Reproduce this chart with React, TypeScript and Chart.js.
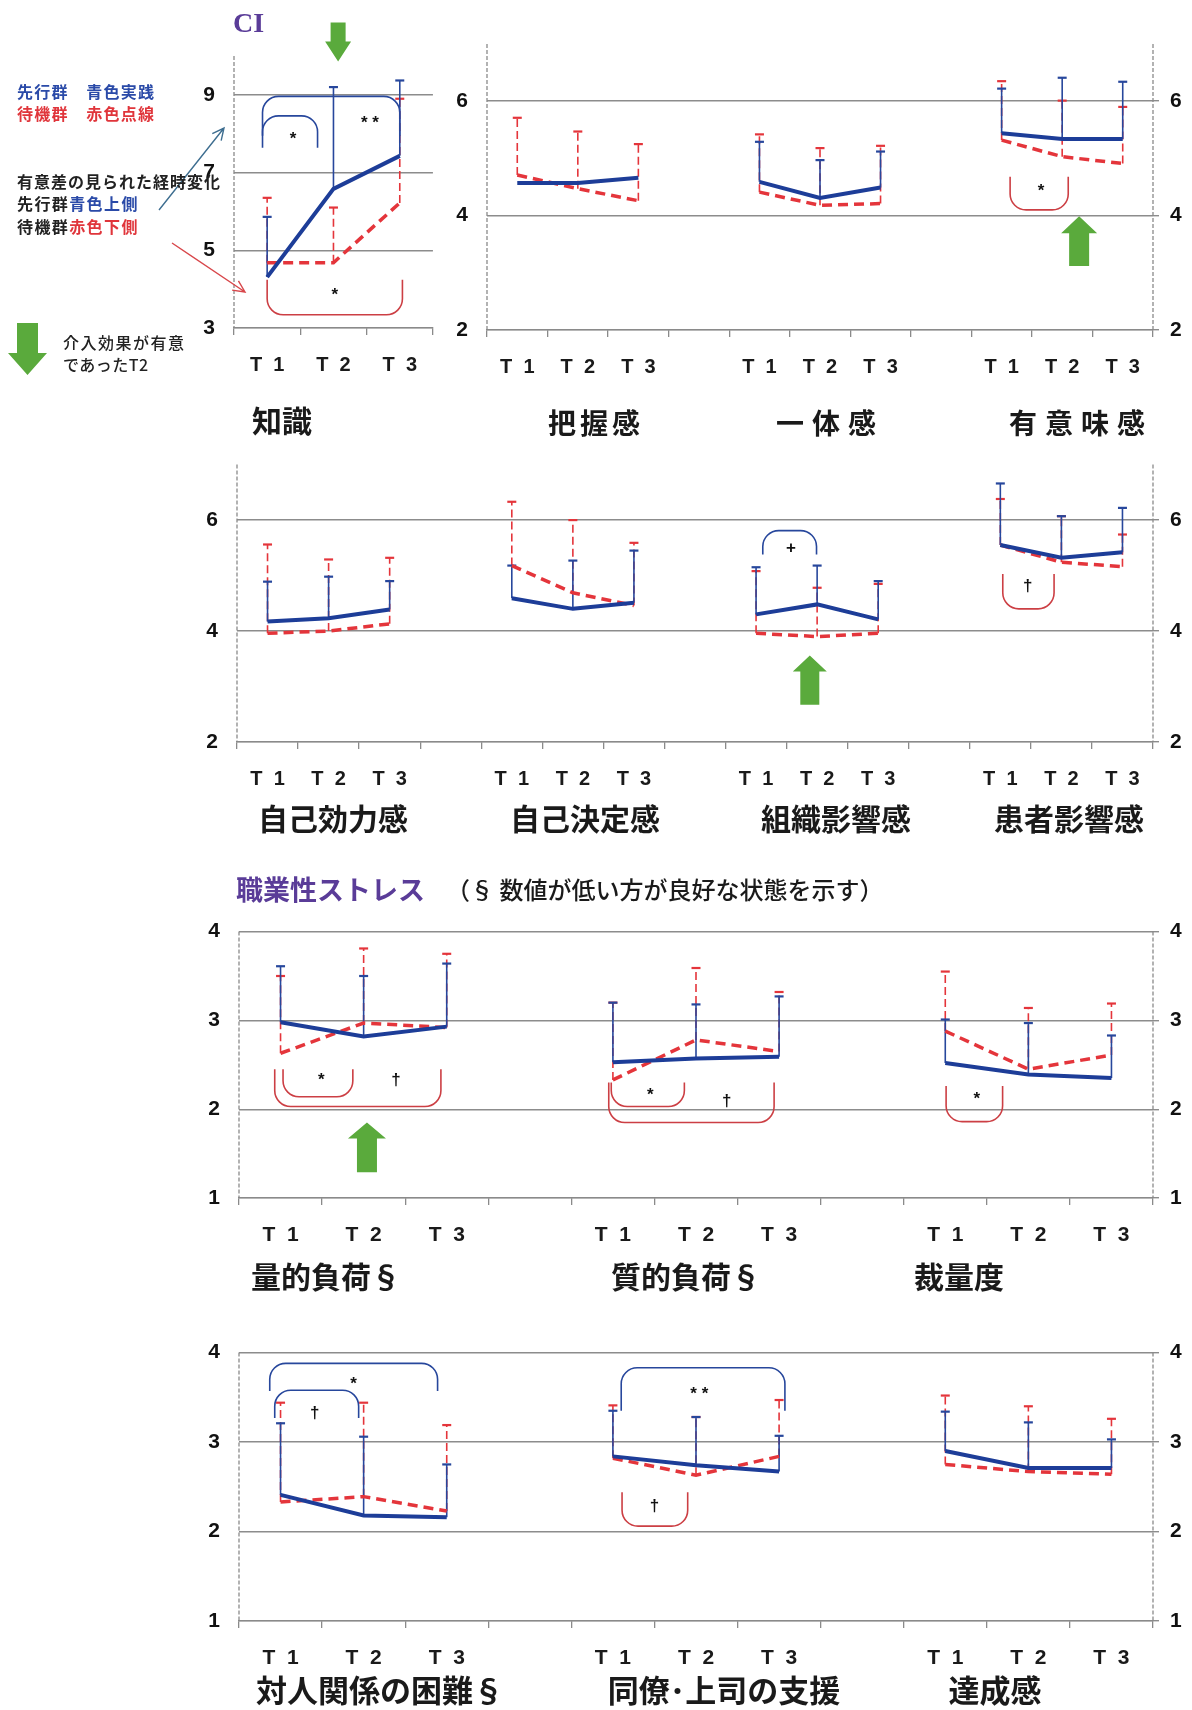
import React, { useEffect, useRef } from "react";
import { Chart, registerables } from "chart.js";

Chart.register(...registerables);

const BLUE = "#1d3d98";
const BLUE_BAR = "#27479c";
const RED = "#e4353b";
const RED_BRACKET = "#cc3f44";
const GREEN = "#5aaa3c";
const GRID = "#8c8c8c";
const TXT = "#1a1a1a";
const PURPLE = "#5a3c98";
const LATIN = "'Liberation Sans', Arial, sans-serif";
const CJK = "'Noto Sans CJK JP', 'Noto Sans', sans-serif";

// ---------------- categories ----------------
const catsKnowledge = ["T  1", "T  2", "T  3"];
const cats3Groups = ["T  1", "T  2", "T  3", "", "T  1", "T  2", "T  3", "", "T  1", "T  2", "T  3"];
const cats4Groups = ["T  1", "T  2", "T  3", "", "T  1", "T  2", "T  3", "", "T  1", "T  2", "T  3", "", "T  1", "T  2", "T  3"];

// ---------------- 知識 ----------------
const knowBlueMean = [4.31, 6.58, 7.43];
const knowBlueTop = [5.86, 9.2, 9.37];
const knowRedMean = [4.68, 4.68, 6.22];
const knowRedTop = [6.35, 6.1, 8.9];

// ---------------- 把握感 / 一体感 / 有意味感 ----------------
const ciBlueMean = [4.57, 4.57, 4.66, null, 4.59, 4.31, 4.49, null, 5.44, 5.34, 5.34];
const ciBlueTop = [null, null, null, null, 5.29, 4.97, 5.12, null, 6.22, 6.41, 6.34];
const ciRedMean = [4.71, 4.47, 4.26, null, 4.41, 4.18, 4.21, null, 5.32, 5.03, 4.91];
const ciRedTop = [5.71, 5.47, 5.25, null, 5.42, 5.18, 5.22, null, 6.35, 6.01, 5.9];

// ---------------- 自己効力感 / 自己決定感 / 組織影響感 / 患者影響感 ----------------
const empBlueMean = [4.17, 4.23, 4.39, null, 4.59, 4.4, 4.51, null, 4.3, 4.48, 4.21, null, 5.55, 5.32, 5.42];
const empBlueTop = [4.89, 4.98, 4.9, null, 5.18, 5.27, 5.45, null, 5.15, 5.18, 4.9, null, 6.66, 6.07, 6.22];
const empRedMean = [3.96, 4.0, 4.13, null, 5.18, 4.69, 4.46, null, 3.96, 3.9, 3.96, null, 5.55, 5.24, 5.16];
const empRedTop = [5.56, 5.29, 5.32, null, 6.33, 6.0, 5.59, null, 5.08, 4.78, 4.85, null, 6.38, 6.07, 5.74];

// ---------------- 量的負荷 / 質的負荷 / 裁量度 ----------------
const strBlueMean = [2.98, 2.82, 2.93, null, 2.53, 2.57, 2.59, null, 2.52, 2.39, 2.35];
const strBlueTop = [3.61, 3.5, 3.64, null, 3.2, 3.18, 3.27, null, 3.01, 2.97, 2.83];
const strRedMean = [2.63, 2.97, 2.92, null, 2.33, 2.78, 2.65, null, 2.88, 2.45, 2.61];
const strRedTop = [3.5, 3.81, 3.75, null, 3.2, 3.59, 3.32, null, 3.55, 3.14, 3.19];

// ---------------- 対人関係の困難 / 同僚・上司の支援 / 達成感 ----------------
const relBlueMean = [2.41, 2.18, 2.16, null, 2.84, 2.74, 2.67, null, 2.9, 2.71, 2.71];
const relBlueTop = [3.21, 3.06, 2.75, null, 3.35, 3.28, 3.07, null, 3.34, 3.22, 3.03];
const relRedMean = [2.33, 2.39, 2.23, null, 2.82, 2.63, 2.84, null, 2.75, 2.67, 2.64];
const relRedTop = [3.44, 3.44, 3.19, null, 3.41, 3.28, 3.47, null, 3.52, 3.4, 3.26];

// ---------------- y ticks ----------------
const ticksKnowledge = [3, 5, 7, 9];
const ticksCI = [2, 4, 6];
const ticksStress = [1, 2, 3, 4];

type Bracket = { x1: number; x2: number; yBase: number; yEnd: number; color: string; label: string; lx: number; ly: number };
type Arrow = { x: number; tip: number; tail: number; shaft: number; head: number; headLen: number };

type Panel = {
  id: string;
  l: number; t: number; r: number; b: number;
  pt: number; yw: number; yw2: number; xh: number;
  min: number; max: number; ticks: number[];
  right: boolean;
  labels: string[];
  tickSize: number;
  blueMean: (number | null)[]; blueTop: (number | null)[];
  redMean: (number | null)[]; redTop: (number | null)[];
  brackets: Bracket[];
  arrows: Arrow[];
};

const panels: Panel[] = [
  {
    id: "know", l: 234, t: 56, r: 429, b: 328, pt: 56, yw: 60, yw2: 6, xh: 52,
    min: 3, max: 10, ticks: ticksKnowledge, right: false, labels: catsKnowledge, tickSize: 20,
    blueMean: knowBlueMean, blueTop: knowBlueTop, redMean: knowRedMean, redTop: knowRedTop,
    brackets: [
      { x1: -0.07, x2: 2.0, yBase: 8.96, yEnd: 7.95, color: BLUE_BAR, label: "* *", lx: 1.55, ly: 8.28 },
      { x1: -0.07, x2: 0.76, yBase: 8.46, yEnd: 7.64, color: BLUE_BAR, label: "*", lx: 0.39, ly: 7.85 },
      { x1: 0.0, x2: 2.04, yBase: 3.34, yEnd: 4.24, color: RED_BRACKET, label: "*", lx: 1.02, ly: 3.85 },
    ],
    arrows: [{ x: 1.07, tip: 9.86, tail: 10.86, shaft: 15, head: 26, headLen: 20 }],
  },
  {
    id: "ci", l: 487, t: 44, r: 1153, b: 330, pt: 44, yw: 50, yw2: 39, xh: 52,
    min: 2, max: 7, ticks: ticksCI, right: true, labels: cats3Groups, tickSize: 20,
    blueMean: ciBlueMean, blueTop: ciBlueTop, redMean: ciRedMean, redTop: ciRedTop,
    brackets: [
      { x1: 8.14, x2: 9.1, yBase: 4.1, yEnd: 4.68, color: RED_BRACKET, label: "*", lx: 8.65, ly: 4.43 },
    ],
    arrows: [{ x: 9.28, tip: 3.99, tail: 3.12, shaft: 20, head: 36, headLen: 17 }],
  },
  {
    id: "emp", l: 237, t: 453, r: 1153, b: 742, pt: 20, yw: 55, yw2: 39, xh: 52,
    min: 2, max: 7, ticks: ticksCI, right: true, labels: cats4Groups, tickSize: 20,
    blueMean: empBlueMean, blueTop: empBlueTop, redMean: empRedMean, redTop: empRedTop,
    brackets: [
      { x1: 8.11, x2: 8.99, yBase: 5.81, yEnd: 5.38, color: BLUE_BAR, label: "+", lx: 8.57, ly: 5.5 },
      { x1: 12.04, x2: 12.88, yBase: 4.4, yEnd: 5.03, color: RED_BRACKET, label: "†", lx: 12.45, ly: 4.8 },
    ],
    arrows: [{ x: 8.88, tip: 3.56, tail: 2.67, shaft: 19, head: 34, headLen: 16 }],
  },
  {
    id: "str", l: 239, t: 910, r: 1153, b: 1198, pt: 10, yw: 55, yw2: 39, xh: 52,
    min: 1, max: 4, ticks: ticksStress, right: true, labels: cats3Groups, tickSize: 21,
    blueMean: strBlueMean, blueTop: strBlueTop, redMean: strRedMean, redTop: strRedTop,
    brackets: [
      { x1: 0.03, x2: 0.87, yBase: 2.14, yEnd: 2.45, color: RED_BRACKET, label: "*", lx: 0.49, ly: 2.32 },
      { x1: -0.07, x2: 1.93, yBase: 2.03, yEnd: 2.45, color: RED_BRACKET, label: "†", lx: 1.39, ly: 2.32 },
      { x1: 3.98, x2: 4.86, yBase: 2.03, yEnd: 2.3, color: RED_BRACKET, label: "*", lx: 4.45, ly: 2.16 },
      { x1: 3.95, x2: 5.94, yBase: 1.85, yEnd: 2.3, color: RED_BRACKET, label: "†", lx: 5.37, ly: 2.09 },
      { x1: 8.01, x2: 8.69, yBase: 1.86, yEnd: 2.26, color: RED_BRACKET, label: "*", lx: 8.38, ly: 2.11 },
    ],
    arrows: [{ x: 1.04, tip: 1.85, tail: 1.29, shaft: 20, head: 38, headLen: 16 }],
  },
  {
    id: "rel", l: 239, t: 1331, r: 1153, b: 1621, pt: 10, yw: 55, yw2: 39, xh: 52,
    min: 1, max: 4, ticks: ticksStress, right: true, labels: cats3Groups, tickSize: 21,
    blueMean: relBlueMean, blueTop: relBlueTop, redMean: relRedMean, redTop: relRedTop,
    brackets: [
      { x1: -0.13, x2: 1.89, yBase: 3.88, yEnd: 3.57, color: BLUE_BAR, label: "*", lx: 0.88, ly: 3.64 },
      { x1: -0.07, x2: 0.94, yBase: 3.58, yEnd: 3.27, color: BLUE_BAR, label: "†", lx: 0.41, ly: 3.32 },
      { x1: 4.1, x2: 6.07, yBase: 3.83, yEnd: 3.35, color: BLUE_BAR, label: "* *", lx: 5.04, ly: 3.53 },
      { x1: 4.11, x2: 4.9, yBase: 2.06, yEnd: 2.44, color: RED_BRACKET, label: "†", lx: 4.5, ly: 2.28 },
    ],
    arrows: [],
  },
];

function drawBlockArrow(ctx: CanvasRenderingContext2D, x: number, yTip: number, yTail: number, shaft: number, head: number, headLen: number) {
  const dir = yTail > yTip ? 1 : -1;
  const yh = yTip + dir * headLen;
  ctx.beginPath();
  ctx.moveTo(x, yTip);
  ctx.lineTo(x + head / 2, yh);
  ctx.lineTo(x + shaft / 2, yh);
  ctx.lineTo(x + shaft / 2, yTail);
  ctx.lineTo(x - shaft / 2, yTail);
  ctx.lineTo(x - shaft / 2, yh);
  ctx.lineTo(x - head / 2, yh);
  ctx.closePath();
  ctx.fill();
}

function makeDecor(p: Panel) {
  return {
    id: "decor_" + p.id,
    beforeDatasetsDraw(chart: any) {
      const ctx: CanvasRenderingContext2D = chart.ctx;
      const xs = chart.scales.x;
      const ys = chart.scales.y;
      const area = chart.chartArea;
      // dashed vertical axis lines (left, and right when present)
      ctx.save();
      ctx.strokeStyle = "#8a8a8a";
      ctx.lineWidth = 1.3;
      ctx.setLineDash([4, 2]);
      const vx = [area.left];
      if (p.right) vx.push(area.right);
      vx.forEach((x) => {
        ctx.beginPath();
        ctx.moveTo(x, area.top);
        ctx.lineTo(x, area.bottom);
        ctx.stroke();
      });
      ctx.restore();

      const bars = (mean: (number | null)[], top: (number | null)[], color: string, dash: number[]) => {
        ctx.save();
        ctx.strokeStyle = color;
        mean.forEach((m, i) => {
          const tv = top[i];
          if (m == null || tv == null) return;
          const x = xs.getPixelForValue(i);
          const y0 = ys.getPixelForValue(m);
          const y1 = ys.getPixelForValue(tv);
          ctx.lineWidth = 1.6;
          ctx.setLineDash(dash);
          ctx.beginPath();
          ctx.moveTo(x, y0);
          ctx.lineTo(x, y1);
          ctx.stroke();
          ctx.setLineDash([]);
          ctx.lineWidth = 2.2;
          ctx.beginPath();
          ctx.moveTo(x - 4.5, y1);
          ctx.lineTo(x + 4.5, y1);
          ctx.stroke();
        });
        ctx.restore();
      };
      bars(p.redMean, p.redTop, RED, [8, 4]);
      bars(p.blueMean, p.blueTop, BLUE_BAR, []);
    },
    afterDraw(chart: any) {
      const ctx: CanvasRenderingContext2D = chart.ctx;
      const xs = chart.scales.x;
      const ys = chart.scales.y;
      ctx.save();
      p.brackets.forEach((br) => {
        const x1 = xs.getPixelForValue(br.x1);
        const x2 = xs.getPixelForValue(br.x2);
        const yb = ys.getPixelForValue(br.yBase);
        const ye = ys.getPixelForValue(br.yEnd);
        const rad = Math.min(16, Math.abs(ye - yb) * 0.7, Math.abs(x2 - x1) / 3);
        ctx.strokeStyle = br.color;
        ctx.lineWidth = 1.6;
        ctx.beginPath();
        ctx.moveTo(x1, ye);
        ctx.arcTo(x1, yb, x2, yb, rad);
        ctx.arcTo(x2, yb, x2, ye, rad);
        ctx.lineTo(x2, ye);
        ctx.stroke();
        ctx.fillStyle = "#111";
        ctx.font = "bold 17px " + LATIN;
        ctx.textAlign = "center";
        ctx.textBaseline = "middle";
        ctx.fillText(br.label, xs.getPixelForValue(br.lx), ys.getPixelForValue(br.ly));
      });
      ctx.fillStyle = GREEN;
      p.arrows.forEach((a) => {
        drawBlockArrow(ctx, xs.getPixelForValue(a.x), ys.getPixelForValue(a.tip), ys.getPixelForValue(a.tail), a.shaft, a.head, a.headLen);
      });
      ctx.restore();
    },
  };
}

function ChartPanel({ p }: { p: Panel }) {
  const ref = useRef<HTMLCanvasElement>(null);
  const width = p.r - p.l + p.yw + p.yw2;
  const height = p.pt + (p.b - p.t) + p.xh;
  useEffect(() => {
    const tickSetter = (s: any) => {
      s.ticks = p.ticks.map((v) => ({ value: v }));
    };
    const yTickFont = { family: LATIN, size: 21, weight: "bold" as const };
    const scales: any = {
      x: {
        type: "category",
        offset: true,
        grid: { offset: true, drawOnChartArea: false, drawTicks: true, tickLength: 7, color: "#8a8a8a", lineWidth: 1.3 },
        border: { display: true, color: "#8a8a8a", width: 1.3 },
        ticks: { font: { family: LATIN, size: p.tickSize, weight: "bold" }, color: TXT, padding: 18, maxRotation: 0, minRotation: 0, autoSkip: false },
        afterFit: (s: any) => { s.height = p.xh; },
      },
      y: {
        type: "linear",
        position: "left",
        min: p.min,
        max: p.max,
        afterBuildTicks: tickSetter,
        grid: { color: GRID, lineWidth: 1.4, drawTicks: false },
        border: { display: false },
        ticks: { font: yTickFont, color: "#111", padding: 19 },
        afterFit: (s: any) => { s.width = p.yw; },
      },
    };
    if (p.right) {
      scales.y2 = {
        type: "linear",
        position: "right",
        min: p.min,
        max: p.max,
        afterBuildTicks: tickSetter,
        grid: { drawOnChartArea: false, drawTicks: true, tickLength: 6, color: GRID, lineWidth: 1.4 },
        border: { display: false },
        ticks: { font: yTickFont, color: "#111", padding: 11 },
        afterFit: (s: any) => { s.width = p.yw2; },
      };
    }
    const chart = new Chart(ref.current as HTMLCanvasElement, {
      type: "line",
      data: {
        labels: p.labels,
        datasets: [
          { label: "先行群", data: p.blueMean as any, borderColor: BLUE, borderWidth: 4, pointRadius: 0, fill: false, tension: 0, spanGaps: false },
          { label: "待機群", data: p.redMean as any, borderColor: RED, borderWidth: 3.5, borderDash: [10, 6], pointRadius: 0, fill: false, tension: 0, spanGaps: false },
        ],
      },
      options: {
        responsive: false,
        animation: false,
        devicePixelRatio: 1,
        layout: { padding: { left: 0, right: 0, top: p.pt, bottom: 0 }, autoPadding: false } as any,
        plugins: { legend: { display: false }, tooltip: { enabled: false } },
        scales,
      },
      plugins: [makeDecor(p)],
    });
    return () => chart.destroy();
  }, []);
  return (
    <canvas
      ref={ref}
      width={width}
      height={height}
      style={{ position: "absolute", left: p.l - p.yw, top: p.t - p.pt, width, height }}
    />
  );
}

function Txt(props: {
  x: number; y: number; size: number; color?: string; weight?: number; align?: "center" | "left";
  family?: string; ls?: number; children: React.ReactNode;
}) {
  const { x, y, size, color = TXT, weight = 700, align = "center", family = CJK, ls = 0, children } = props;
  return (
    <div
      style={{
        position: "absolute", left: x, top: y,
        transform: align === "center" ? "translate(-50%, -50%)" : "translate(0, -50%)",
        fontSize: size, color, fontWeight: weight, fontFamily: family, letterSpacing: ls,
        whiteSpace: "nowrap", lineHeight: 1,
      }}
    >
      {children}
    </div>
  );
}

function pointer(x0: number, y0: number, x1: number, y1: number) {
  const dx = x1 - x0, dy = y1 - y0;
  const len = Math.hypot(dx, dy);
  const ux = dx / len, uy = dy / len;
  const hl = 13, a = 0.45;
  const c = Math.cos(a), s = Math.sin(a);
  const lx = x1 - hl * (ux * c - uy * s), ly = y1 - hl * (uy * c + ux * s);
  const rx = x1 - hl * (ux * c + uy * s), ry = y1 - hl * (uy * c - ux * s);
  return `M${x0},${y0} L${x1},${y1} M${lx},${ly} L${x1},${y1} L${rx},${ry}`;
}

const groupNamesCI = [
  { text: "把握感", x: 594, ls: 4 },
  { text: "一体感", x: 826, ls: 8 },
  { text: "有意味感", x: 1077, ls: 8 },
];
const groupNamesEmp = [
  { text: "自己効力感", x: 333 },
  { text: "自己決定感", x: 585 },
  { text: "組織影響感", x: 836 },
  { text: "患者影響感", x: 1069 },
];
const groupNamesStress = [
  { text: "量的負荷§", x: 326 },
  { text: "質的負荷§", x: 686 },
  { text: "裁量度", x: 959 },
];
const groupNamesRel = [
  { text: "対人関係の困難§", x: 380 },
  { text: "同僚･上司の支援", x: 724 },
  { text: "達成感", x: 995 },
];

export default function App() {
  return (
    <div style={{ position: "absolute", left: 0, top: 0, width: 1192, height: 1710, background: "#fff", overflow: "hidden" }}>
      {panels.map((p) => (
        <ChartPanel key={p.id} p={p} />
      ))}

      <svg width={1192} height={1710} style={{ position: "absolute", left: 0, top: 0, pointerEvents: "none" }}>
        <path d={pointer(159, 210, 224, 128)} stroke="#3e6e90" strokeWidth={1.4} fill="none" />
        <path d={pointer(172, 243, 245, 292)} stroke="#d8474b" strokeWidth={1.4} fill="none" />
        <polygon
          points="17,323 38,323 38,353 47,353 27.5,375 8,353 17,353"
          fill={GREEN}
        />
      </svg>

      {/* headings */}
      <Txt x={233} y={23} size={28} color={PURPLE} weight={600} align="left" family="'Liberation Serif', 'DejaVu Serif', serif">CI</Txt>
      <Txt x={236} y={888} size={27} color={PURPLE} weight={700} align="left">職業性ストレス</Txt>
      <Txt x={446} y={889} size={24} color={TXT} weight={500} align="left">（§ 数値が低い方が良好な状態を示す）</Txt>

      {/* legend notes */}
      <Txt x={17} y={91} size={16} color="#2a4aa8" align="left" ls={1.3}>先行群　青色実践</Txt>
      <Txt x={17} y={113} size={16} color="#e0353b" align="left" ls={1.3}>待機群　赤色点線</Txt>
      <Txt x={17} y={181} size={16} color="#222" align="left" ls={1}>有意差の見られた経時変化</Txt>
      <Txt x={17} y={203} size={16} color="#222" align="left" ls={1.4}>
        先行群<span style={{ color: "#2a4aa8" }}>青色上側</span>
      </Txt>
      <Txt x={17} y={226} size={16} color="#222" align="left" ls={1.4}>
        待機群<span style={{ color: "#e0353b" }}>赤色下側</span>
      </Txt>
      <Txt x={63} y={342} size={16} color="#222" weight={500} align="left" ls={1.5}>介入効果が有意</Txt>
      <Txt x={63} y={364} size={16} color="#222" weight={500} align="left" ls={0.5}>であったT2</Txt>

      {/* group names */}
      <Txt x={282} y={419} size={30}>知識</Txt>
      {groupNamesCI.map((g) => (
        <Txt key={g.text} x={g.x + g.ls / 2} y={422} size={28} ls={g.ls}>{g.text}</Txt>
      ))}
      {groupNamesEmp.map((g) => (
        <Txt key={g.text} x={g.x} y={817} size={30}>{g.text}</Txt>
      ))}
      {groupNamesStress.map((g) => (
        <Txt key={g.text} x={g.x} y={1275} size={30}>{g.text}</Txt>
      ))}
      {groupNamesRel.map((g) => (
        <Txt key={g.text} x={g.x} y={1688} size={31}>{g.text}</Txt>
      ))}
    </div>
  );
}
